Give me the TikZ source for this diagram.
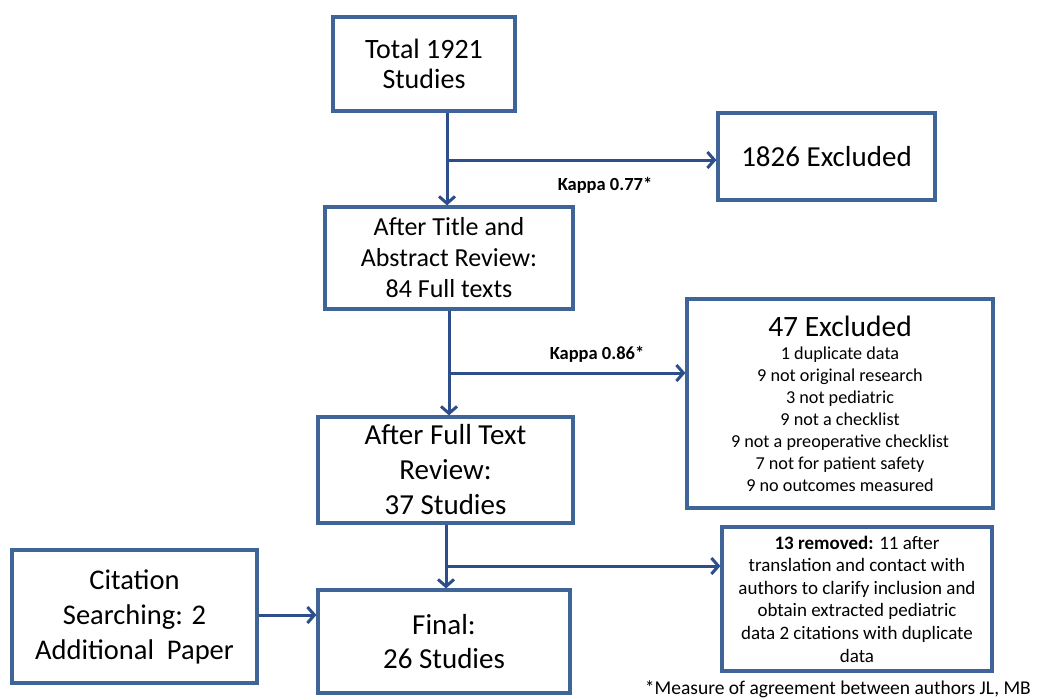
\documentclass[tikz,border=0pt]{standalone}
\usepackage{fontspec}
\setmainfont{Carlito}
\usetikzlibrary{arrows.meta}
\definecolor{boxc}{RGB}{62,100,152}
\definecolor{arrc}{RGB}{44,78,138}
\begin{document}
\begin{tikzpicture}[x=1pt,y=-1pt,
  bx/.style={draw=boxc,line width=3.2pt,inner sep=0pt,align=center},
  arr/.style={draw=arrc,line width=3pt,-{Straight Barb[length=7pt,width=16pt,line width=3pt]}},
  kap/.style={font=\fontsize{18.5}{20}\bfseries\selectfont}]
\useasboundingbox (0,0) rectangle (1039,699);
\node[bx,minimum width=182pt,minimum height=94pt,font=\fontsize{28}{30}\selectfont] (total) at (424,64) {Total 1921\\Studies};
\node[bx,minimum width=217pt,minimum height=87pt,font=\fontsize{29}{32}\selectfont] (exc1) at (826.5,156.5) {1826 Excluded};
\node[bx,minimum width=248pt,minimum height=102pt,font=\fontsize{26}{31}\selectfont] (title) at (449,258) {After Title and\\Abstract Review:\\84 Full texts};
\node[bx,minimum width=306pt,minimum height=209pt,font=\fontsize{18.2}{22}\selectfont] (exc2) at (840,403.5) {\fontsize{29.5}{30}\selectfont 47 Excluded\\[1pt]
\fontsize{18.2}{22}\selectfont 1 duplicate data\\9 not original research\\3 not pediatric\\9 not a checklist\\9 not a preoperative checklist\\7 not for patient safety\\9 no outcomes measured};
\node[bx,minimum width=255pt,minimum height=106pt,font=\fontsize{29}{35}\selectfont] (full) at (445.5,470) {After Full Text\\Review:\\37 Studies};
\node[bx,minimum width=270pt,minimum height=144pt,font=\fontsize{19}{22.6}\selectfont] (rem) at (857,599) {\textbf{13 removed:} 11 after\\translation and contact with\\authors to clarify inclusion and\\obtain extracted pediatric\\data 2 citations with duplicate\\data};
\node[bx,minimum width=245pt,minimum height=133pt,font=\fontsize{28.5}{35}\selectfont] (cit) at (134.5,616.5) {Citation\\Searching: 2\\Additional~ Paper};
\node[bx,minimum width=252pt,minimum height=103pt,font=\fontsize{29}{34}\selectfont] (final) at (444,641.5) {Final:\\26 Studies};
\node[kap] (k1) at (605,185) {Kappa 0.77*};
\node[kap] (k2) at (597,354) {Kappa 0.86*};
\node[anchor=base east,font=\fontsize{19.5}{22}\selectfont,inner sep=0pt] (foot) at (1031,694) {*Measure of agreement between authors JL, MB};
% connectors
\coordinate (b1) at (447,160);
\draw[arr] (total.south -| b1) -- (title.north -| b1);
\draw[arr] (b1) -- (b1 -| exc1.west);
\coordinate (b2) at (449,373);
\draw[arr] (title.south -| b2) -- (full.north -| b2);
\draw[arr] (b2) -- (b2 -| exc2.west);
\coordinate (b3) at (446,566);
\draw[arr] (full.south -| b3) -- (final.north -| b3);
\draw[arr] (b3) -- (b3 -| rem.west);
\draw[arr] (cit.east |- 0,615) -- (final.west |- 0,615);
\end{tikzpicture}
\end{document}
